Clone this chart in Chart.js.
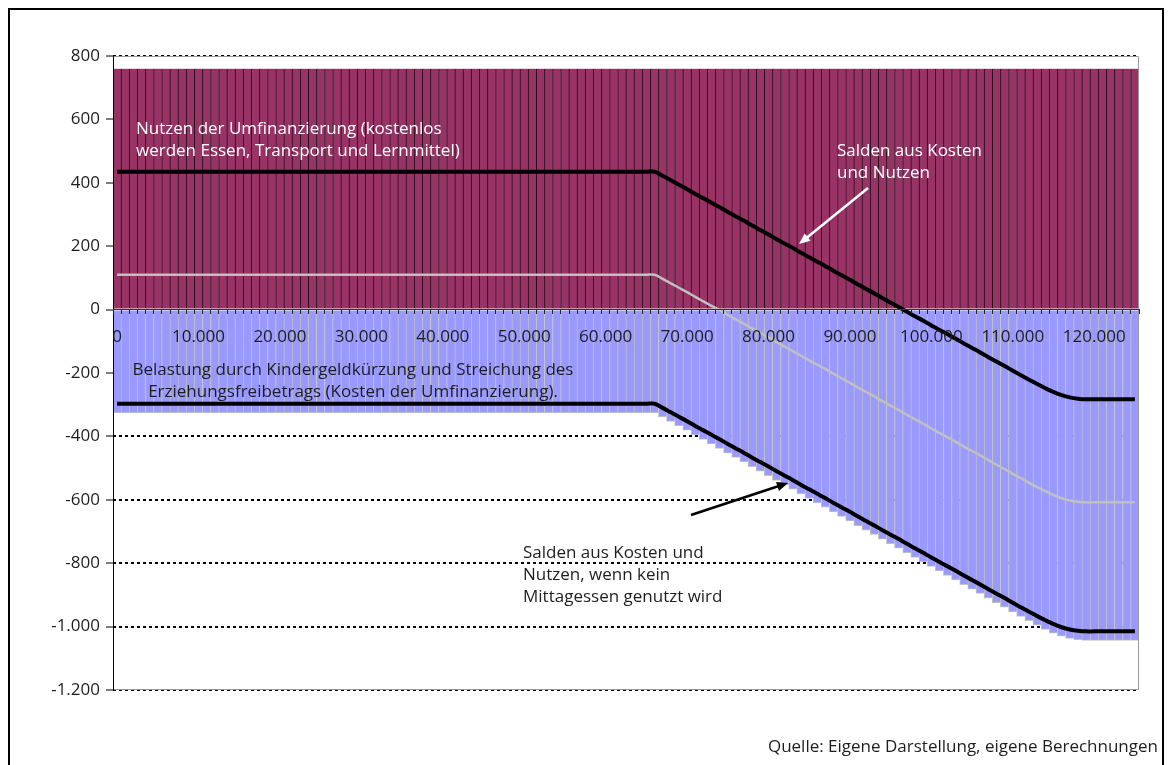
<!DOCTYPE html>
<html>
<head>
<meta charset="utf-8">
<script src="https://cdn.jsdelivr.net/npm/chart.js@4"></script>
<style>
  body { margin: 0; background: #fff; }
  #chart { display: block; }
</style>
</head>
<body>
<canvas id="chart" width="1171" height="765"></canvas>
<script>
// Einkommen (Euro), eine Kategorie je 1.000
const incomes = [
  0, 1000, 2000, 3000, 4000, 5000, 6000, 7000, 8000, 9000,
  10000, 11000, 12000, 13000, 14000, 15000, 16000, 17000, 18000, 19000,
  20000, 21000, 22000, 23000, 24000, 25000, 26000, 27000, 28000, 29000,
  30000, 31000, 32000, 33000, 34000, 35000, 36000, 37000, 38000, 39000,
  40000, 41000, 42000, 43000, 44000, 45000, 46000, 47000, 48000, 49000,
  50000, 51000, 52000, 53000, 54000, 55000, 56000, 57000, 58000, 59000,
  60000, 61000, 62000, 63000, 64000, 65000, 66000, 67000, 68000, 69000,
  70000, 71000, 72000, 73000, 74000, 75000, 76000, 77000, 78000, 79000,
  80000, 81000, 82000, 83000, 84000, 85000, 86000, 87000, 88000, 89000,
  90000, 91000, 92000, 93000, 94000, 95000, 96000, 97000, 98000, 99000,
  100000, 101000, 102000, 103000, 104000, 105000, 106000, 107000, 108000, 109000,
  110000, 111000, 112000, 113000, 114000, 115000, 116000, 117000, 118000, 119000,
  120000, 121000, 122000, 123000, 124000, 125000
];

// Nutzen der Umfinanzierung (Essen, Transport, Lernmittel)
const benefit = [
  760, 760, 760, 760, 760, 760, 760, 760, 760, 760,
  760, 760, 760, 760, 760, 760, 760, 760, 760, 760,
  760, 760, 760, 760, 760, 760, 760, 760, 760, 760,
  760, 760, 760, 760, 760, 760, 760, 760, 760, 760,
  760, 760, 760, 760, 760, 760, 760, 760, 760, 760,
  760, 760, 760, 760, 760, 760, 760, 760, 760, 760,
  760, 760, 760, 760, 760, 760, 760, 760, 760, 760,
  760, 760, 760, 760, 760, 760, 760, 760, 760, 760,
  760, 760, 760, 760, 760, 760, 760, 760, 760, 760,
  760, 760, 760, 760, 760, 760, 760, 760, 760, 760,
  760, 760, 760, 760, 760, 760, 760, 760, 760, 760,
  760, 760, 760, 760, 760, 760, 760, 760, 760, 760,
  760, 760, 760, 760, 760, 760
];

// Belastung durch Kindergeldkürzung und Streichung des Erziehungsfreibetrags
const cost = [
  -325, -325, -325, -325, -325, -325, -325, -325, -325, -325,
  -325, -325, -325, -325, -325, -325, -325, -325, -325, -325,
  -325, -325, -325, -325, -325, -325, -325, -325, -325, -325,
  -325, -325, -325, -325, -325, -325, -325, -325, -325, -325,
  -325, -325, -325, -325, -325, -325, -325, -325, -325, -325,
  -325, -325, -325, -325, -325, -325, -325, -325, -325, -325,
  -325, -325, -325, -325, -325, -325, -325, -338, -352, -366,
  -380, -395, -409, -423, -437, -452, -466, -480, -495, -509,
  -523, -538, -552, -566, -581, -595, -609, -623, -638, -652,
  -666, -681, -695, -709, -724, -738, -752, -767, -781, -795,
  -810, -824, -838, -852, -867, -881, -895, -910, -924, -938,
  -953, -967, -981, -995, -1008, -1020, -1030, -1037, -1041, -1043,
  -1043, -1043, -1043, -1043, -1043, -1043
];

// Salden aus Kosten und Nutzen
const balance = [
  435, 435, 435, 435, 435, 435, 435, 435, 435, 435,
  435, 435, 435, 435, 435, 435, 435, 435, 435, 435,
  435, 435, 435, 435, 435, 435, 435, 435, 435, 435,
  435, 435, 435, 435, 435, 435, 435, 435, 435, 435,
  435, 435, 435, 435, 435, 435, 435, 435, 435, 435,
  435, 435, 435, 435, 435, 435, 435, 435, 435, 435,
  435, 435, 435, 435, 435, 435, 435, 422, 408, 394,
  380, 365, 351, 337, 323, 308, 294, 280, 265, 251,
  237, 222, 208, 194, 179, 165, 151, 137, 122, 108,
  94, 79, 65, 51, 36, 22, 8, -7, -21, -35,
  -50, -64, -78, -92, -107, -121, -135, -150, -164, -178,
  -193, -207, -221, -235, -248, -260, -270, -277, -281, -283,
  -283, -283, -283, -283, -283, -283
];

// mittlere Linie (grau)
const balanceGrey = [
  110, 110, 110, 110, 110, 110, 110, 110, 110, 110,
  110, 110, 110, 110, 110, 110, 110, 110, 110, 110,
  110, 110, 110, 110, 110, 110, 110, 110, 110, 110,
  110, 110, 110, 110, 110, 110, 110, 110, 110, 110,
  110, 110, 110, 110, 110, 110, 110, 110, 110, 110,
  110, 110, 110, 110, 110, 110, 110, 110, 110, 110,
  110, 110, 110, 110, 110, 110, 110, 97, 83, 69,
  55, 40, 26, 12, -2, -17, -31, -45, -60, -74,
  -88, -103, -117, -131, -146, -160, -174, -188, -203, -217,
  -231, -246, -260, -274, -289, -303, -317, -332, -346, -360,
  -375, -389, -403, -417, -432, -446, -460, -475, -489, -503,
  -518, -532, -546, -560, -573, -585, -595, -602, -606, -608,
  -608, -608, -608, -608, -608, -608
];

// Salden, wenn kein Mittagessen genutzt wird
const balanceNoLunch = [
  -297, -297, -297, -297, -297, -297, -297, -297, -297, -297,
  -297, -297, -297, -297, -297, -297, -297, -297, -297, -297,
  -297, -297, -297, -297, -297, -297, -297, -297, -297, -297,
  -297, -297, -297, -297, -297, -297, -297, -297, -297, -297,
  -297, -297, -297, -297, -297, -297, -297, -297, -297, -297,
  -297, -297, -297, -297, -297, -297, -297, -297, -297, -297,
  -297, -297, -297, -297, -297, -297, -297, -310, -324, -338,
  -352, -367, -381, -395, -409, -424, -438, -452, -467, -481,
  -495, -510, -524, -538, -553, -567, -581, -595, -610, -624,
  -638, -653, -667, -681, -696, -710, -724, -739, -753, -767,
  -782, -796, -810, -824, -839, -853, -867, -882, -896, -910,
  -925, -939, -953, -967, -980, -992, -1002, -1009, -1013, -1015,
  -1015, -1015, -1015, -1015, -1015, -1015
];

const yTicks = [-1200, -1000, -800, -600, -400, -200, 0, 200, 400, 600, 800];
// nur diese Gitterlinien liegen nicht unter den Balken
const visibleGrid = [-1200, -1000, -800, -600, -400, 800];

const FONT = 'Open Sans';
const TEXT = '#1e1e1e';

function fmt(n) {
  const s = String(Math.abs(n)).replace(/\B(?=(\d{3})+(?!\d))/g, '.');
  return (n < 0 ? '-' : '') + s;
}

// Rahmen, Achsenlinie und Beschriftungen im Diagramm
const decorations = {
  id: 'decorations',
  afterDatasetsDraw(chart) {
    const { ctx, chartArea: a } = chart;
    ctx.save();
    ctx.strokeStyle = '#9a9a9a';
    ctx.lineWidth = 1;
    ctx.beginPath();
    ctx.moveTo(a.left, a.top + 0.5);
    ctx.lineTo(a.right - 0.5, a.top + 0.5);
    ctx.lineTo(a.right - 0.5, a.bottom - 0.5);
    ctx.lineTo(a.left, a.bottom - 0.5);
    ctx.stroke();
    ctx.strokeStyle = '#000';
    ctx.beginPath();
    ctx.moveTo(a.left + 0.5, a.top);
    ctx.lineTo(a.left + 0.5, a.bottom);
    ctx.stroke();
    ctx.restore();
  },
  afterDraw(chart) {
    const ctx = chart.ctx;
    ctx.save();
    // äußerer Rahmen
    ctx.strokeStyle = '#000';
    ctx.lineWidth = 2;
    ctx.beginPath();
    ctx.moveTo(9, 765);
    ctx.lineTo(9, 9);
    ctx.lineTo(1163, 9);
    ctx.lineTo(1163, 765);
    ctx.stroke();

    ctx.font = '17px "' + FONT + '"';
    ctx.textBaseline = 'alphabetic';

    ctx.fillStyle = '#fff';
    ctx.textAlign = 'left';
    ctx.fillText('Nutzen der Umfinanzierung (kostenlos', 136, 134);
    ctx.fillText('werden Essen, Transport und Lernmittel)', 136, 156);
    ctx.fillText('Salden aus Kosten', 837, 156);
    ctx.fillText('und Nutzen', 837, 178);

    ctx.fillStyle = TEXT;
    ctx.textAlign = 'center';
    ctx.fillText('Belastung durch Kindergeldkürzung und Streichung des', 353, 375);
    ctx.fillText('Erziehungsfreibetrags (Kosten der Umfinanzierung).', 353, 397);
    ctx.textAlign = 'left';
    ctx.fillText('Salden aus Kosten und', 523, 558);
    ctx.fillText('Nutzen, wenn kein', 523, 580);
    ctx.fillText('Mittagessen genutzt wird', 523, 602);
    ctx.textAlign = 'right';
    ctx.fillText('Quelle: Eigene Darstellung, eigene Berechnungen', 1158, 752);

    arrow(ctx, 868, 188, 799, 244, '#fff');
    arrow(ctx, 691, 515, 788, 483, '#000');
    ctx.restore();
  }
};

function arrow(ctx, x1, y1, x2, y2, color) {
  const ang = Math.atan2(y2 - y1, x2 - x1);
  const len = 12;
  const bx = x2 - Math.cos(ang) * len * 0.8;
  const by = y2 - Math.sin(ang) * len * 0.8;
  ctx.strokeStyle = color;
  ctx.fillStyle = color;
  ctx.lineWidth = 2.5;
  ctx.beginPath();
  ctx.moveTo(x1, y1);
  ctx.lineTo(bx, by);
  ctx.stroke();
  ctx.beginPath();
  ctx.moveTo(x2, y2);
  ctx.lineTo(x2 - Math.cos(ang - 0.4) * len, y2 - Math.sin(ang - 0.4) * len);
  ctx.lineTo(x2 - Math.cos(ang + 0.4) * len, y2 - Math.sin(ang + 0.4) * len);
  ctx.closePath();
  ctx.fill();
}

const lineStyle = {
  type: 'line',
  pointRadius: 0,
  fill: false,
  tension: 0.4,
  order: 0
};

const barStyle = {
  borderSkipped: false,
  grouped: false,
  barPercentage: 1,
  categoryPercentage: 1,
  inflateAmount: 0.5,
  order: 2
};

new Chart(document.getElementById('chart'), {
  type: 'bar',
  data: {
    labels: incomes,
    datasets: [
      Object.assign({}, barStyle, {
        label: 'Nutzen',
        data: benefit,
        backgroundColor: '#993366',
        borderColor: '#1c0c16',
        borderWidth: { left: 1, right: 0, top: 0, bottom: 0 }
      }),
      Object.assign({}, barStyle, {
        label: 'Belastung',
        data: cost,
        backgroundColor: '#9999ff',
        borderColor: '#c4c4b8',
        borderWidth: { left: 1, right: 0, top: 0, bottom: 1 }
      }),
      Object.assign({}, lineStyle, {
        label: 'Salden (grau)',
        data: balanceGrey,
        borderColor: '#c0c0c0',
        borderWidth: 2.5
      }),
      Object.assign({}, lineStyle, {
        label: 'Salden aus Kosten und Nutzen',
        data: balance,
        borderColor: '#000',
        borderWidth: 4
      }),
      Object.assign({}, lineStyle, {
        label: 'Salden ohne Mittagessen',
        data: balanceNoLunch,
        borderColor: '#000',
        borderWidth: 4
      })
    ]
  },
  options: {
    responsive: false,
    animation: false,
    layout: { padding: { left: 0, top: 56, right: 32, bottom: 75 } },
    plugins: {
      legend: { display: false },
      tooltip: { enabled: false }
    },
    scales: {
      x: {
        type: 'category',
        position: { y: 0 },
        offset: true,
        afterFit(scale) { scale.height = 0; },
        grid: {
          offset: true,
          z: 1,
          drawOnChartArea: false,
          drawTicks: true,
          tickLength: 4,
          tickColor: '#222'
        },
        border: { display: true, color: '#333', width: 1, z: 1 },
        ticks: {
          z: 1,
          autoSkip: false,
          maxRotation: 0,
          minRotation: 0,
          padding: 13,
          color: TEXT,
          font: { family: FONT, size: 17 },
          callback(value, index) {
            return index % 10 === 0 ? fmt(incomes[index]) : '';
          }
        }
      },
      y: {
        min: -1200,
        max: 800,
        afterFit(scale) { scale.width = 113; },
        afterBuildTicks(scale) { scale.ticks = yTicks.map(v => ({ value: v })); },
        grid: {
          color(ctx) {
            return ctx.tick && visibleGrid.includes(ctx.tick.value) ? '#000' : 'rgba(0,0,0,0)';
          },
          lineWidth: 2,
          drawTicks: true,
          tickLength: 7,
          tickColor: '#000',
          tickWidth: 1,
          tickBorderDash: []
        },
        border: { display: false, dash: [3, 3] },
        ticks: {
          padding: 6,
          color: TEXT,
          font: { family: FONT, size: 17 },
          callback(value) { return fmt(value); }
        }
      }
    }
  },
  plugins: [decorations]
});
</script>
</body>
</html>
